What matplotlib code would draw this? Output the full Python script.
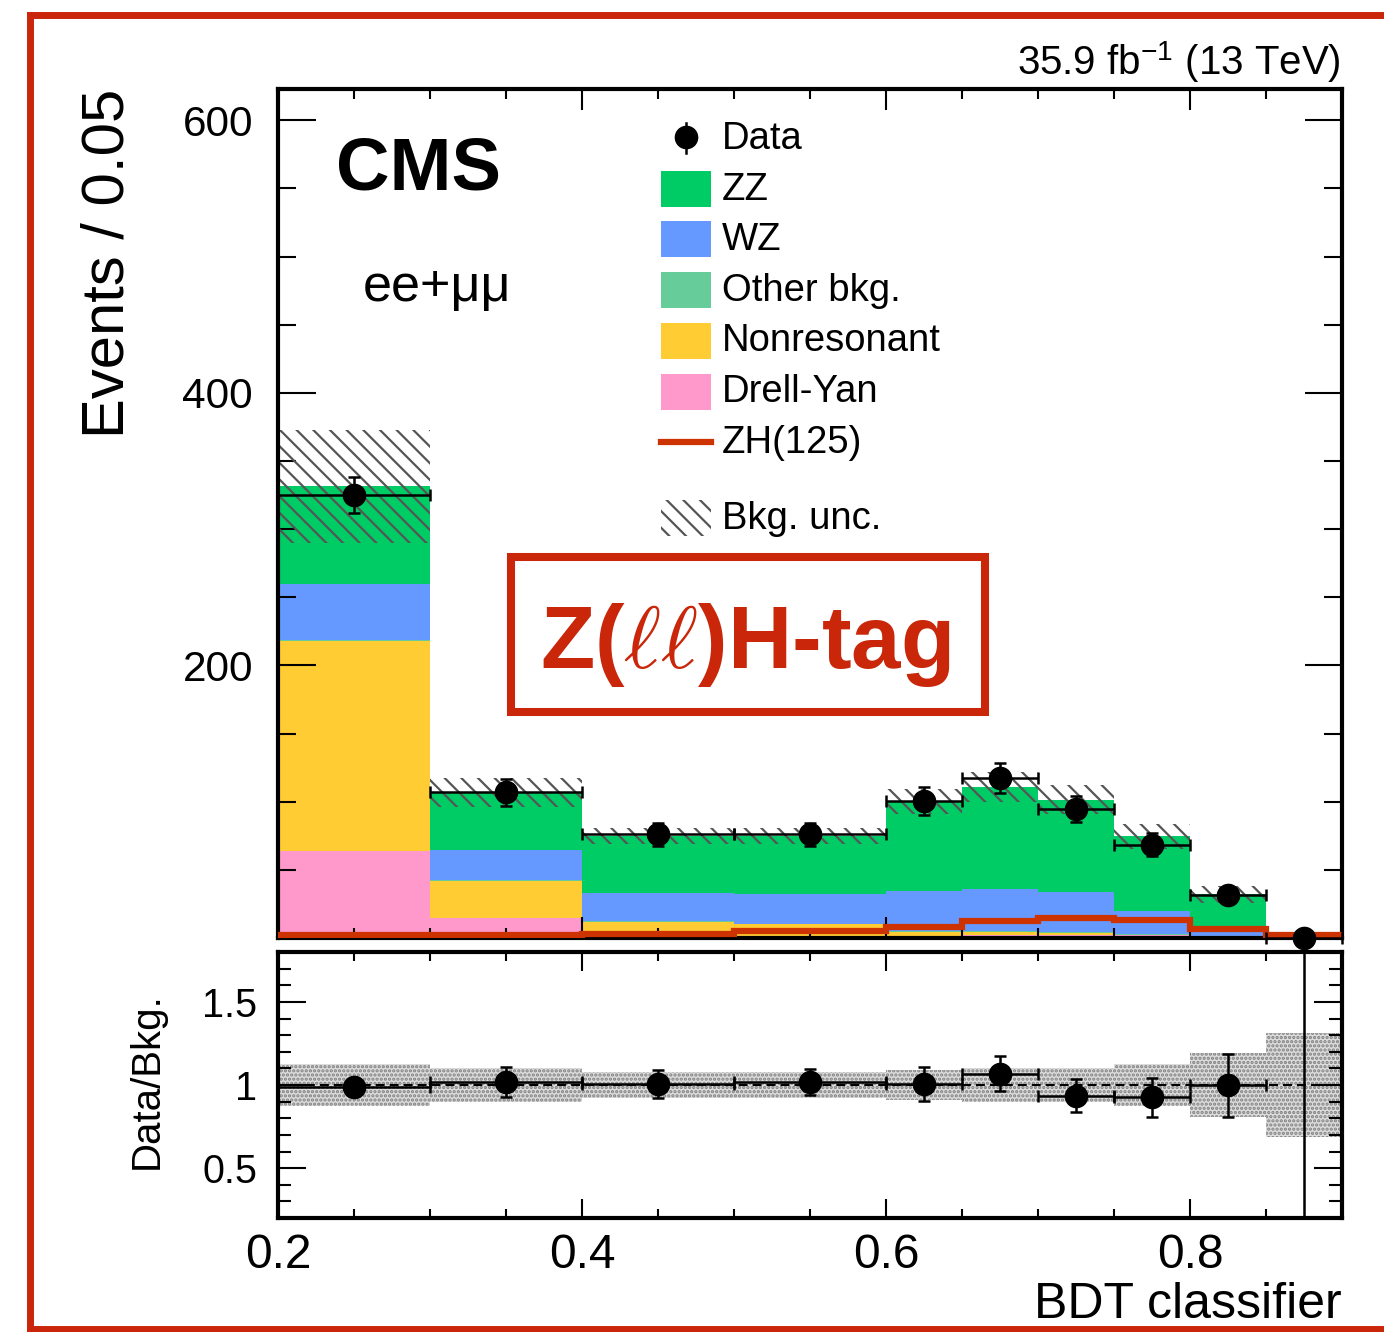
import numpy as np
import matplotlib
matplotlib.use('Agg')
import matplotlib.pyplot as plt
from matplotlib.patches import Rectangle
from matplotlib.lines import Line2D

plt.rcParams['font.family'] = ['Liberation Sans', 'DejaVu Sans']
plt.rcParams['mathtext.fontset'] = 'custom'
plt.rcParams['mathtext.rm'] = 'Liberation Sans'
plt.rcParams['mathtext.it'] = 'DejaVu Serif:italic'
plt.rcParams['hatch.linewidth'] = 1.6

# binning of the BDT classifier
edges = [0.2, 0.3, 0.4, 0.5, 0.6, 0.65, 0.7, 0.75, 0.8, 0.85, 0.9]

# stacked backgrounds (events / bin), bottom to top
drell_yan = [63.5, 15, 2, 1.5, 1.5, 2.5, 2.5, 2, 1, 0.1]
nonres = [154.5, 27, 10, 8.5, 3, 2, 1.5, 0.3, 0.2, 0.05]
other_bkg = [0.5, 0.5, 0.5, 0.5, 0.5, 0.5, 0.5, 0.5, 0.3, 0.05]
wz = [41, 22, 20.5, 22, 29.5, 31, 29, 16.7, 3.5, 0.1]
zz = [72, 42, 42, 42.5, 65.5, 75, 68, 55, 27, 0.3]

# signal
zh125 = [2, 2, 3.3, 5, 8, 12.5, 15, 13, 6.5, 2.5]

# relative background uncertainty
bkg_rel_unc = [0.125, 0.10, 0.08, 0.08, 0.09, 0.10, 0.105, 0.125, 0.19, 0.31]

# data
data = [325, 107, 76, 76, 100.5, 117.5, 94.5, 68.5, 31.5, 0]
data_err_lo = [13, 10, 8.7, 8.7, 10, 10.8, 9.7, 8.3, 5.6, 0]
data_err_hi = [13, 10, 8.7, 8.7, 10, 10.8, 9.7, 8.3, 5.6, 1.8]

# data / bkg
ratio = [0.986, 1.02, 1.006, 1.018, 1.006, 1.068, 0.936, 0.926, 0.998, 0.0]
ratio_err_lo = [0.05, 0.09, 0.085, 0.08, 0.105, 0.105, 0.1, 0.117, 0.19, 0.0]
ratio_err_hi = [0.05, 0.09, 0.085, 0.08, 0.105, 0.105, 0.1, 0.117, 0.19, 10.0]

colors = {'ZZ': '#00cc66', 'WZ': '#6699ff', 'Other bkg.': '#66cc99',
          'Nonresonant': '#ffcc33', 'Drell-Yan': '#ff99cc'}
zh_color = '#cc3300'
frame_red = '#c9260a'

W, H = 1384, 1332
fig = plt.figure(figsize=(W / 100, H / 100), dpi=100)


def fx(px):
    return px / W


def fy(py):
    return 1 - py / H


ax = fig.add_axes([fx(278), fy(938), 1064 / W, 849 / H])
axr = fig.add_axes([fx(278), fy(1218), 1064 / W, 266 / H])

edges = np.array(edges)
centers = 0.5 * (edges[1:] + edges[:-1])
halfw = 0.5 * (edges[1:] - edges[:-1])

# stack
base = np.zeros(len(centers))
for name, vals in [('Drell-Yan', drell_yan), ('Nonresonant', nonres),
                   ('Other bkg.', other_bkg), ('WZ', wz), ('ZZ', zz)]:
    top = base + np.array(vals)
    ax.stairs(top, edges, baseline=base, fill=True, color=colors[name], lw=0, zorder=1)
    base = top
total = base
unc = total * np.array(bkg_rel_unc)
ax.stairs(total + unc, edges, baseline=total - unc, fill=True, facecolor='none',
          edgecolor='#555555', hatch='\\\\', lw=0, zorder=2)

ax.stairs(zh125, edges, baseline=None, color=zh_color, lw=4.5, zorder=3)

ax.errorbar(centers, data, yerr=[data_err_lo, data_err_hi], xerr=halfw, fmt='o',
            color='k', ms=16, elinewidth=1.8, capsize=4, capthick=1.8, zorder=5,
            clip_on=False)

ax.set_xlim(0.2, 0.9)
ax.set_ylim(0, 623)
ax.set_xticks([0.2, 0.4, 0.6, 0.8])
ax.set_xticks(np.arange(0.2, 0.9, 0.05), minor=True)
ax.set_yticks([0, 200, 400, 600])
ax.set_yticklabels(['', '200', '400', '600'])
ax.set_yticks(np.arange(0, 623, 50), minor=True)
ax.tick_params(which='both', direction='in', top=True, right=True, width=1.5,
               labelbottom=False)
ax.tick_params(axis='x', which='major', length=15)
ax.tick_params(axis='x', which='minor', length=7.5)
ax.tick_params(axis='y', which='major', length=27, labelsize=30.5, pad=18)
ax.tick_params(axis='y', which='minor', length=13)
for sp in ax.spines.values():
    sp.set_linewidth(3)

# ratio panel
axr.stairs(1 + np.array(bkg_rel_unc), edges, baseline=1 - np.array(bkg_rel_unc),
           fill=True, facecolor='#dcdcdc', edgecolor='#808080', hatch='....', lw=0,
           zorder=1)
axr.axhline(1, color='k', lw=1.5, ls=(0, (4.3, 2.4)), zorder=2)
axr.errorbar(centers, ratio, yerr=[ratio_err_lo, ratio_err_hi], xerr=halfw, fmt='o',
             color='k', ms=16, elinewidth=1.8, capsize=4, capthick=1.8, zorder=5)
axr.set_xlim(0.2, 0.9)
axr.set_ylim(0.2, 1.8)
axr.set_xticks([0.2, 0.4, 0.6, 0.8])
axr.set_xticklabels(['0.2', '0.4', '0.6', '0.8'])
axr.set_xticks(np.arange(0.2, 0.9, 0.05), minor=True)
axr.set_yticks([0.5, 1, 1.5])
axr.set_yticklabels(['0.5', '1', '1.5'])
axr.set_yticks(np.arange(0.3, 1.75, 0.1), minor=True)
axr.tick_params(which='both', direction='in', top=True, right=True, width=1.5)
axr.tick_params(axis='x', which='major', length=14, labelsize=34.5, pad=11)
axr.tick_params(axis='x', which='minor', length=6.5)
axr.tick_params(axis='y', which='major', length=20, labelsize=28.5, pad=15)
axr.tick_params(axis='y', which='minor', length=9.5)
for sp in axr.spines.values():
    sp.set_linewidth(3)

# axis titles and labels
fig.text(fx(108), fy(263), 'Events / 0.05', fontsize=43, rotation=90,
         ha='center', va='center')
fig.text(fx(147), fy(1081), 'Data/Bkg.', fontsize=29, rotation=90,
         ha='center', va='center')
fig.text(fx(1342), fy(1318), 'BDT classifier', fontsize=36, ha='right', va='baseline')
fig.text(fx(1341), fy(75), r'35.9 fb$^{-1}$ (13 TeV)', fontsize=29, ha='right',
         va='baseline')
fig.text(fx(336), fy(190), 'CMS', fontsize=53.5, fontweight='bold', ha='left',
         va='baseline')
fig.text(fx(363), fy(301), 'ee+\u03bc\u03bc', fontsize=37.5, ha='left', va='baseline')

# tag box
fig.add_artist(Rectangle((fx(511), fy(712)), (985 - 511) / W, (712 - 557) / H,
                         transform=fig.transFigure, fill=False, edgecolor=frame_red,
                         lw=5.8))
fig.text(fx(745), fy(668), r'Z($\ell\ell$)H-tag', fontsize=64, fontweight='bold',
         color=frame_red, ha='center', va='baseline')

# legend
leg_rows = [('ZZ', 188.7), ('WZ', 239), ('Other bkg.', 290), ('Nonresonant', 340.5),
            ('Drell-Yan', 391.5)]
bx0, bx1, bh = 661, 711, 36
fig.add_artist(Line2D([fx(686)], [fy(136.7)], marker='o', ms=16, color='k',
                      transform=fig.transFigure))
fig.add_artist(Line2D([fx(686), fx(686)], [fy(122.7), fy(152.7)], lw=1.8, color='k',
                      transform=fig.transFigure))
fig.text(fx(722), fy(149), 'Data', fontsize=27.5, ha='left', va='baseline')
for name, yc in leg_rows:
    fig.add_artist(Rectangle((fx(bx0), fy(yc + bh / 2)), (bx1 - bx0) / W, bh / H,
                             transform=fig.transFigure, facecolor=colors[name], lw=0))
    fig.text(fx(722), fy(yc + 11), name, fontsize=27.5, ha='left', va='baseline')
fig.add_artist(Line2D([fx(bx0), fx(bx1)], [fy(442), fy(442)], lw=4.5, color=zh_color,
                      transform=fig.transFigure))
fig.text(fx(722), fy(453), 'ZH(125)', fontsize=27.5, ha='left', va='baseline')
fig.add_artist(Rectangle((fx(bx0), fy(518 + bh / 2)), (bx1 - bx0) / W, bh / H,
                         transform=fig.transFigure, facecolor='none',
                         edgecolor='#555555', hatch='\\\\', lw=0))
fig.text(fx(722), fy(529), 'Bkg. unc.', fontsize=27.5, ha='left', va='baseline')

# outer red frame
for xs, ys in [([29.5, W + 5], [15, 15]), ([29.5, 29.5], [15, 1329]),
               ([29.5, W + 5], [1329, 1329])]:
    fig.add_artist(Line2D([fx(v) for v in xs], [fy(v) for v in ys], lw=5,
                          color=frame_red, transform=fig.transFigure,
                          solid_capstyle='projecting'))

fig.savefig('out.png', dpi=100)
